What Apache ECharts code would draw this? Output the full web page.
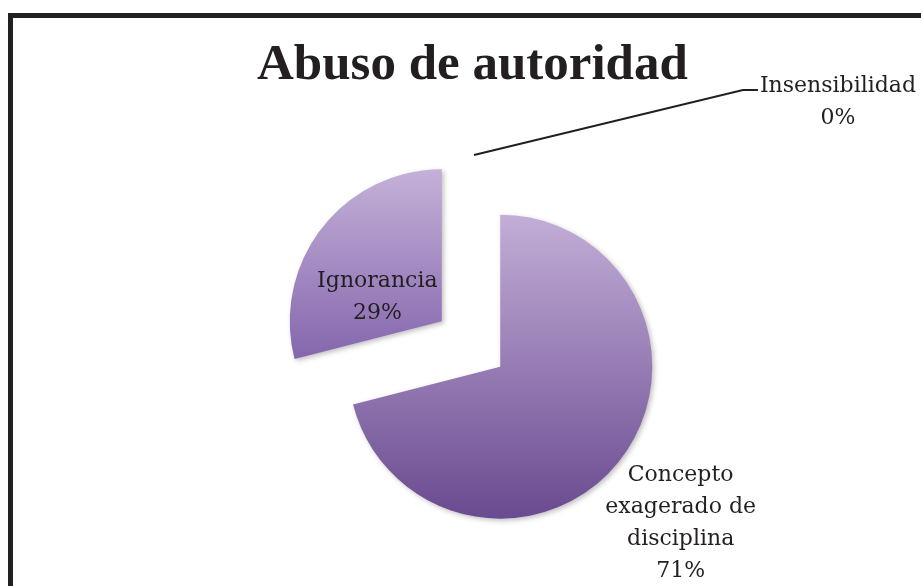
<!DOCTYPE html>
<html>
<head>
<meta charset="utf-8">
<script src="https://cdn.jsdelivr.net/npm/echarts@6/dist/echarts.min.js"></script>
<style>
  html, body { margin: 0; padding: 0; background: #fff; overflow: hidden; }
  #main { width: 921px; height: 586px; }
</style>
</head>
<body>
<div id="main"></div>
<script>
var categories = ['Concepto\nexagerado de\ndisciplina', 'Ignorancia', 'Insensibilidad'];
var values = [71, 29, 0];
var percentLabels = ['71%', '29%', '0%'];

var gradients = [
  ['#c2aed7', '#6a4a90'],
  ['#c4b1d8', '#8566ad'],
  ['#c4b1d8', '#8566ad']
];

// fine tuning of label placement relative to where ECharts puts them
var labelShift = [
  { dx: 118, dy: 108 },
  { dx: -2, dy: 24 },
  { dx: 347, dy: -38 }
];

var myChart = echarts.init(document.getElementById('main'));

var data = values.map(function (v, i) {
  return {
    name: categories[i],
    value: v,
    selected: true,
    itemStyle: {
      color: new echarts.graphic.LinearGradient(0, 0, 0, 1, [
        { offset: 0, color: gradients[i][0] },
        { offset: 1, color: gradients[i][1] }
      ])
    },
    label: {
      position: i === 2 ? 'outside' : 'inside'
    },
    labelLine: { show: i === 2 }
  };
});

myChart.setOption({
  backgroundColor: '#fff',
  animation: false,
  title: {
    text: 'Abuso de autoridad',
    left: 252,
    top: 35,
    textStyle: {
      fontFamily: 'Liberation Serif',
      fontWeight: 'bold',
      fontSize: 51,
      color: '#231f20'
    }
  },
  graphic: [
    {
      type: 'rect',
      silent: true,
      shape: { x: 10.5, y: 15.5, width: 1000, height: 1000 },
      style: { fill: 'none', stroke: '#231f20', lineWidth: 5 }
    }
  ],
  series: [
    {
      type: 'pie',
      center: [471, 344],
      radius: 152,
      startAngle: 90,
      clockwise: true,
      selectedMode: 'multiple',
      selectedOffset: 37,
      avoidLabelOverlap: false,
      data: data,
      itemStyle: {
        shadowBlur: 5,
        shadowOffsetX: 2,
        shadowOffsetY: 2,
        shadowColor: 'rgba(0,0,0,0.25)'
      },
      label: {
        show: true,
        fontFamily: 'DejaVu Serif',
        fontSize: 22,
        lineHeight: 32,
        color: '#231f20',
        align: 'center',
        formatter: function (p) {
          return p.name + '\n' + percentLabels[p.dataIndex];
        }
      },
      labelLine: {
        length: 15,
        length2: 15,
        lineStyle: { color: '#231f20', width: 2 }
      },
      labelLayout: function (params) {
        var s = labelShift[params.dataIndex];
        var out = { dx: s.dx, dy: s.dy, align: 'center' };
        var pts = params.labelLinePoints;
        if (pts && pts.length) {
          var r = params.labelRect;
          var endX = r.x + s.dx - r.width / 2 - 2;
          var endY = r.y + s.dy + 20;
          out.labelLinePoints = [
            [pts[0][0] + 3, pts[0][1]],
            [endX - 15, endY],
            [endX, endY]
          ];
        }
        return out;
      },
      emphasis: { disabled: true }
    }
  ]
});
</script>
</body>
</html>
